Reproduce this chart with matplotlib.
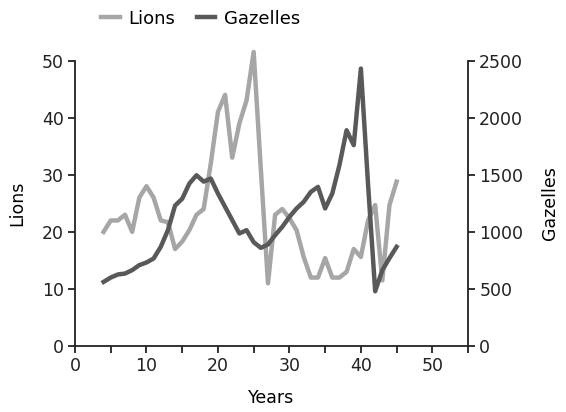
import matplotlib
matplotlib.use("Agg")
import matplotlib.pyplot as plt
from matplotlib.ticker import MultipleLocator

# data, one point per year
years = list(range(4, 46))
lions = [20, 22, 22, 23, 20, 26, 28, 26, 22, 21.7, 17, 18.3, 20.3, 23, 24,
         32, 41, 44, 33, 39, 43, 51.5, 31, 11, 23, 24, 22.4, 20.3, 15.6, 12,
         12, 15.4, 12, 12, 13, 17, 15.6, 22, 24.7, 11.5, 24.7, 28.8]
gazelles = [562, 600, 627, 635, 665, 709, 732, 767, 869, 1015, 1230, 1290,
            1423, 1496, 1440, 1467, 1336, 1219, 1103, 986, 1015, 910, 860,
            890, 971, 1044, 1131, 1205, 1263, 1350, 1394, 1205, 1336, 1584,
            1890, 1759, 2430, 1420, 480, 665, 770, 869]

LION_COL = "#a6a6a6"
GAZ_COL = "#595959"
FS = 12.5

plt.rcParams["font.family"] = ["DejaVu Sans"]
fig = plt.figure(figsize=(5.66, 4.12), dpi=100)
ax = fig.add_axes([0.1325, 0.160, 0.6945, 0.693])
ax2 = ax.twinx()

l1, = ax.plot(years, lions, color=LION_COL, lw=3.2, label="Lions",
              clip_on=False)
l2, = ax2.plot(years, gazelles, color=GAZ_COL, lw=3.2, label="Gazelles",
               clip_on=False)

ax.set_xlim(0, 55)
ax.set_ylim(0, 50)
ax2.set_ylim(0, 2500)
ax.xaxis.set_major_locator(MultipleLocator(10))
ax.xaxis.set_minor_locator(MultipleLocator(5))
ax.yaxis.set_major_locator(MultipleLocator(10))
ax2.yaxis.set_major_locator(MultipleLocator(500))

for a in (ax, ax2):
    a.spines["top"].set_visible(False)
    for s in a.spines.values():
        s.set_linewidth(1.3)
        s.set_color("#222222")
    a.tick_params(which="both", direction="out", length=5, width=1.3,
                  labelsize=FS, colors="#222222", pad=3)
ax.spines["right"].set_visible(False)
ax2.spines["left"].set_visible(False)
ax2.spines["bottom"].set_visible(False)

ax.set_xlabel("Years", fontsize=FS, labelpad=10)
ax.set_ylabel("Lions", fontsize=FS, labelpad=11)
ax2.set_ylabel("Gazelles", fontsize=FS, labelpad=13)

fig.legend(handles=[l1, l2], loc="center", bbox_to_anchor=(0.355, 0.955),
           ncol=2, frameon=False, fontsize=FS + 0.5, handlelength=1.0,
           handletextpad=0.5, columnspacing=1.2)

fig.savefig("out.png", dpi=100)
